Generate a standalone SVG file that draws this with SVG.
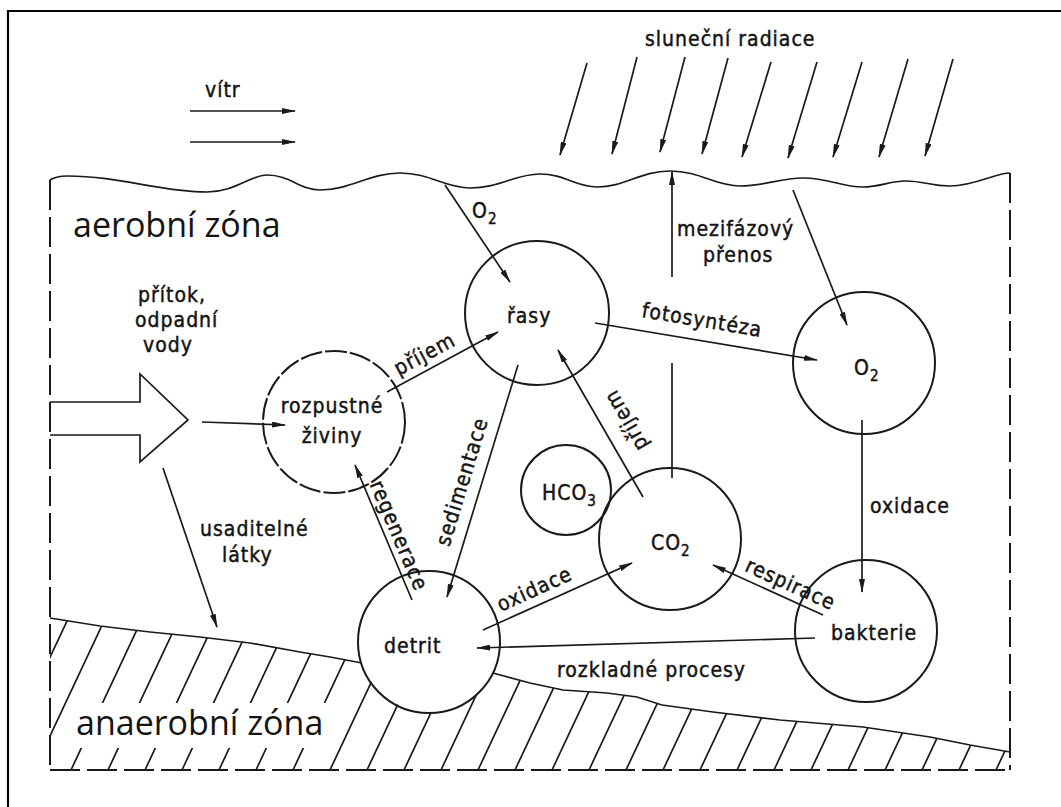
<svg xmlns="http://www.w3.org/2000/svg" width="1061" height="807" viewBox="0 0 1061 807">
  <style>
    .ln { fill: none; stroke: #1a1a1a; stroke-width: 1.7; }
    .arr { fill: none; stroke: #1a1a1a; stroke-width: 1.7; marker-end: url(#ah); }
    .circ { fill: none; stroke: #1a1a1a; stroke-width: 2; }
    .wall { fill: none; stroke: #1a1a1a; stroke-width: 2; stroke-dasharray: 30 7; }
    .hatch { fill: none; stroke: #1a1a1a; stroke-width: 1.7; }
    .lbl { font-family: "DejaVu Sans Condensed", "DejaVu Sans", sans-serif; font-stretch: condensed; font-size: 21px; letter-spacing: 1px; fill: #141414; stroke: #141414; stroke-width: 0.45; }
    .mid { text-anchor: middle; }
    .zone { font-family: "Open Sans", "Noto Sans", sans-serif; font-size: 34px; fill: #141414; }
    .sub { font-size: 15px; }
  </style>
  <defs>
    <marker id="ah" viewBox="0 0 14 6" refX="13" refY="3" markerWidth="14" markerHeight="6" orient="auto" markerUnits="userSpaceOnUse">
      <path d="M0,0 L14,3 L0,6 Z" fill="#1a1a1a"/>
    </marker>
    <clipPath id="sedClip">
      <path d="M50,618 L100,626 L150,632 L200,637 L250,643 L300,652 L330,657 L362,663 A71,71 0 0 0 493,673 L530,683 L563,690 L607,693 L637,697 L662,705 L713,712 L780,720 L863,727 L930,737 L970,745 L1010,752 L1010,770 L50,770 Z"/>
    </clipPath>
  </defs>

  <rect width="1061" height="807" fill="#fff"/>
  <!-- frame -->
  <path d="M8,807 V11 H1061" fill="none" stroke="#000" stroke-width="2.2"/>

  <!-- water body -->
  <g id="water">
    <path id="surface" class="ln" d="M50,180 C55,177 60,176 67,176 C120,176 160,192 207,192 C235,192 250,175 267,175 C290,175 300,190 320,190 C350,190 370,173 400,173 C430,173 445,188 470,188 C500,188 515,174 540,174 C565,174 575,187 597,187 C625,187 640,171 670,171 C700,171 715,186 740,186 C765,186 780,178 803,178 C830,178 840,187 863,187 C880,187 890,181 905,181 C925,181 930,186 950,186 C975,186 995,173 1010,173"/>
    <path class="wall" d="M50,180 V770"/>
    <path class="wall" d="M1010,173 V770"/>
    <path class="wall" d="M50,770 H1010"/>
  </g>

  <!-- sediment layer with hatching -->
  <g id="sediment">
    <path class="hatch" clip-path="url(#sedClip)" d="M-3,770 L91,570 M34,770 L128,570 M71,770 L165,570 M108,770 L202,570 M145,770 L239,570 M182,770 L276,570 M219,770 L313,570 M256,770 L350,570 M293,770 L387,570 M330,770 L424,570 M367,770 L461,570 M404,770 L498,570 M441,770 L535,570 M478,770 L572,570 M515,770 L609,570 M552,770 L646,570 M589,770 L683,570 M626,770 L720,570 M663,770 L757,570 M700,770 L794,570 M737,770 L831,570 M774,770 L868,570 M811,770 L905,570 M848,770 L942,570 M885,770 L979,570 M922,770 L1016,570 M959,770 L1053,570 M996,770 L1090,570 M1033,770 L1127,570"/>
    <path class="ln" d="M50,618 L100,626 L150,632 L200,637 L250,643 L300,652 L330,657 L362,663"/>
    <path class="ln" d="M493,673 L530,683 L563,690 L607,693 L637,697 L662,705 L713,712 L780,720 L863,727 L930,737 L970,745 L1010,752"/>
  </g>

  <!-- zone captions -->
  <g id="zones">
    <text class="zone" x="73" y="237">aerobní zóna</text>
    <rect x="72" y="703" width="261" height="45" fill="#fff"/>
    <text class="zone" x="76" y="735">anaerobní zóna</text>
  </g>

  <!-- connectors -->
  <g id="connectors">
    <!-- wind -->
    <line class="arr" x1="190" y1="111" x2="295" y2="111"/>
    <line class="arr" x1="190" y1="142" x2="295" y2="142"/>
    <!-- solar radiation -->
    <line class="arr" x1="587" y1="63" x2="560" y2="155"/>
    <line class="arr" x1="637" y1="57" x2="612" y2="154"/>
    <line class="arr" x1="685" y1="57" x2="660" y2="152"/>
    <line class="arr" x1="728" y1="58" x2="702" y2="154"/>
    <line class="arr" x1="771" y1="62" x2="742" y2="157"/>
    <line class="arr" x1="817" y1="62" x2="788" y2="158"/>
    <line class="arr" x1="862" y1="62" x2="833" y2="157"/>
    <line class="arr" x1="908" y1="59" x2="879" y2="157"/>
    <line class="arr" x1="953" y1="59" x2="925" y2="156"/>
    <!-- inflow -->
    <path class="ln" d="M50,402 H140 V374 L188,420 L140,462 V435 H50"/>
    <line class="arr" x1="202" y1="422" x2="285" y2="425"/>
    <line class="arr" x1="163" y1="468" x2="217" y2="627"/>
    <!-- gas exchange -->
    <line class="arr" x1="445" y1="185" x2="510" y2="282"/>
    <line class="arr" x1="793" y1="190" x2="847" y2="325"/>
    <line class="arr" x1="672" y1="277" x2="672" y2="172"/>
    <line class="ln" x1="672" y1="363" x2="672" y2="478"/>
    <!-- cycle -->
    <line class="arr" x1="387" y1="392" x2="498" y2="332"/>
    <line class="arr" x1="595" y1="323" x2="817" y2="360"/>
    <line class="arr" x1="643" y1="497" x2="558" y2="350"/>
    <line class="arr" x1="862" y1="420" x2="862" y2="592"/>
    <line class="arr" x1="823" y1="615" x2="713" y2="565"/>
    <line class="arr" x1="815" y1="638" x2="477" y2="648"/>
    <line class="arr" x1="483" y1="630" x2="632" y2="563"/>
    <line class="arr" x1="518" y1="365" x2="447" y2="597"/>
    <line class="arr" x1="412" y1="600" x2="355" y2="465"/>
  </g>

  <!-- nodes -->
  <g id="node-rasy">
    <circle class="circ" cx="537" cy="313" r="72"/>
    <text class="lbl" x="507" y="323">řasy</text>
  </g>
  <g id="node-o2">
    <circle class="circ" cx="864" cy="363" r="71"/>
    <text class="lbl" x="854" y="375">O<tspan class="sub" dy="6">2</tspan></text>
  </g>
  <g id="node-zivin">
    <circle class="circ" cx="334" cy="422" r="71" stroke-dasharray="22 3"/>
    <text class="lbl mid" x="332" y="413">rozpustné</text>
    <text class="lbl mid" x="332" y="443">živiny</text>
  </g>
  <g id="node-hco3">
    <circle class="circ" cx="566" cy="490" r="45"/>
    <text class="lbl" x="542" y="500">HCO<tspan class="sub" dy="6">3</tspan></text>
  </g>
  <g id="node-co2">
    <circle class="circ" cx="670" cy="539" r="71"/>
    <text class="lbl" x="651" y="550">CO<tspan class="sub" dy="6">2</tspan></text>
  </g>
  <g id="node-bakterie">
    <circle class="circ" cx="866" cy="631" r="71"/>
    <text class="lbl" x="831" y="640">bakterie</text>
  </g>
  <g id="node-detrit">
    <circle class="circ" cx="429" cy="642" r="71"/>
    <text class="lbl" x="384" y="653">detrit</text>
  </g>

  <!-- labels -->
  <g id="labels">
    <text class="lbl" x="205" y="97">vítr</text>
    <text class="lbl" x="645" y="46">sluneční radiace</text>
    <text class="lbl" x="472" y="218">O<tspan class="sub" dy="6">2</tspan></text>
    <text class="lbl" x="677" y="236">mezifázový</text>
    <text class="lbl" x="703" y="262">přenos</text>
    <text class="lbl" x="138" y="302">přítok,</text>
    <text class="lbl" x="135" y="327">odpadní</text>
    <text class="lbl" x="143" y="352">vody</text>
    <text class="lbl" x="200" y="536">usaditelné</text>
    <text class="lbl" x="222" y="562">látky</text>
    <text class="lbl" x="870" y="513">oxidace</text>
    <text class="lbl" x="557" y="677">rozkladné procesy</text>
    <text class="lbl mid" transform="translate(425,355) rotate(-28.4)" y="6">příjem</text>
    <text class="lbl mid" transform="translate(702,321) rotate(9.5)" y="6">fotosyntéza</text>
    <text class="lbl mid" transform="translate(627,420) rotate(-120)" y="6">příjem</text>
    <text class="lbl mid" transform="translate(463,482) rotate(-73)" y="6">sedimentace</text>
    <text class="lbl mid" transform="translate(398,536) rotate(67)" y="6">regenerace</text>
    <text class="lbl mid" transform="translate(535,590) rotate(-24.5)" y="6">oxidace</text>
    <text class="lbl mid" transform="translate(790,585) rotate(24.4)" y="6">respirace</text>
  </g>
</svg>
